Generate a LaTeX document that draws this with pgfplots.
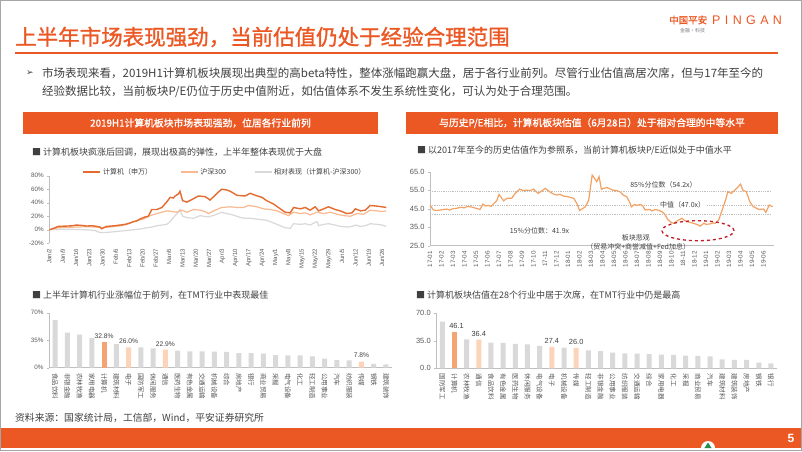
\documentclass[border=0pt]{standalone}
\usepackage{pgfplots}
\pgfplotsset{compat=1.18}
\usepackage{fontspec}
\setmainfont{Liberation Sans}
\newfontfamily\cjk{Noto Sans CJK SC}
\newfontfamily\cjkb[FakeBold=1.2]{Noto Sans CJK SC}
\newfontfamily\dejavu{DejaVu Sans}
\newfontfamily\pingan[LetterSpace=35]{Liberation Sans}
\definecolor{pa}{RGB}{236,88,36}
\definecolor{cline}{RGB}{228,108,48}
\definecolor{hsline}{RGB}{248,185,145}
\definecolor{relg}{RGB}{217,217,217}
\definecolor{peline}{RGB}{242,162,100}
\definecolor{barg}{RGB}{217,217,217}
\definecolor{bardk}{RGB}{245,163,112}
\definecolor{barlt}{RGB}{251,212,185}
\definecolor{txt}{RGB}{64,64,64}
\definecolor{tickc}{RGB}{89,89,89}
\definecolor{axg}{RGB}{191,191,191}
\definecolor{ell}{RGB}{192,30,40}
\definecolor{lgreen}{RGB}{40,140,80}
\newcommand{\fs}[1]{\fontsize{#1}{#1}\selectfont}
\pgfplotsset{
  slide/.style={scale only axis, enlargelimits=false, anchor=south west,
    /pgf/number format/assume math mode=true,
    tick label style={font=\fs{6.5}, text=tickc},
    axis line style={axg, line width=0.5pt},
    tick style={axg, line width=0.4pt},
    major tick length=2pt, tick align=outside,
    axis y line*=left, axis x line*=bottom},
}
\begin{document}
\begin{tikzpicture}[x=1pt,y=1pt]
\useasboundingbox (0,0) rectangle (802,451);
\fill[white] (0,0) rectangle (802,451);
% title and logo
\node[anchor=west, text=pa, inner sep=0] at (15,414) {\cjkb\fs{21.5}上半年市场表现强劲，当前估值仍处于经验合理范围};
\node[anchor=west, text=pa, inner sep=0] at (669,431) {\cjkb\fs{9.5}中国平安};
\node[anchor=west, text=pa, inner sep=0] at (712,431) {\pingan\fs{12.5}PINGAN};
\node[anchor=west, text=gray, inner sep=0] at (680,420) {\cjk\fs{5}金融·科技};
\draw[pa, line width=1.5pt] (15,398) -- (778,398);
% bullet
\node[anchor=west, text=txt, inner sep=0] at (26,378) {\dejavu\fs{9}➢};
\node[anchor=west, text=txt, inner sep=0] at (42,378) {\cjk\fs{11.5}市场表现来看，2019H1计算机板块展现出典型的高beta特性，整体涨幅跑赢大盘，居于各行业前列。尽管行业估值高居次席，但与17年至今的};
\node[anchor=west, text=txt, inner sep=0] at (42,359) {\cjk\fs{11.5}经验数据比较，当前板块P/E仍位于历史中值附近，如估值体系不发生系统性变化，可认为处于合理范围。};
% header bars
\fill[pa] (23,317) rectangle (378,339);
\node[text=white] at (200.5,328) {\cjkb\fs{9.8}2019H1计算机板块市场表现强劲，位居各行业前列};
\fill[pa] (406,317) rectangle (778,339);
\node[text=white] at (592,328) {\cjkb\fs{9.8}与历史P/E相比，计算机板块估值（6月28日）处于相对合理的中等水平};
% subtitles
\node[anchor=west, text=txt, inner sep=0] at (32,299) {\cjk\fs{9}■\ 计算机板块疯涨后回调，展现出极高的弹性，上半年整体表现优于大盘};
\node[anchor=west, text=txt, inner sep=0] at (417,301) {\cjk\fs{9}■\ 以2017年至今的历史估值作为参照系，当前计算机板块P/E近似处于中值水平};
\node[anchor=west, text=txt, inner sep=0] at (32,156) {\cjk\fs{9}■\ 上半年计算机行业涨幅位于前列，在TMT行业中表现最佳};
\node[anchor=west, text=txt, inner sep=0] at (416,156) {\cjk\fs{9}■\ 计算机板块估值在28个行业中居于次席，在TMT行业中仍是最高};
% footer
\node[anchor=west, text=txt, inner sep=0] at (15,33) {\cjk\fs{9.8}资料来源：国家统计局，工信部，Wind，平安证券研究所};
\fill[pa] (0,3) rectangle (802,23);
\fill[white] (701,3) arc (180:0:7) -- cycle;
\fill[lgreen] (704.5,3) -- (708,8.5) -- (711.5,3) -- cycle;
\node[text=white] at (791,13) {\bfseries\fs{12}5};
\draw[gray!70, line width=0.8pt] (0.5,0.5) rectangle (801.5,450.5);

% ---------- chart A: line chart ----------
\begin{axis}[slide, at={(49.3pt,207.7pt)}, width=338pt, height=67.6pt,
  xmin=0, xmax=127, ymin=-20, ymax=80,
  ytick={-20,0,...,80}, yticklabel={\pgfmathprintnumber{\tick}\%},
  y tick label style={font=\fs{6.3}},
  x axis line style={draw=none}, xtick style={draw=none},
  xtick={0,5,...,125},
  xticklabels={Jan/2,Jan/9,Jan/16,Jan/23,Jan/30,Feb/6,Feb/13,Feb/20,Feb/27,Mar/6,Mar/13,Mar/20,Mar/27,Apr/3,Apr/10,Apr/17,Apr/24,May/1,May/8,May/15,May/22,May/29,Jun/5,Jun/12,Jun/19,Jun/26},
  x tick label style={rotate=90, anchor=east, font=\fs{6}},
  legend columns=3,
  legend style={at={(0.52,1.055)}, anchor=center, draw=none, fill=none,
    font=\cjk\fs{7}, text=txt, /tikz/every even column/.append style={column sep=26pt}},
  legend image code/.code={\draw[#1] (0pt,0pt) -- (17pt,0pt);},
]
\addlegendimage{cline, line width=1.4pt}\addlegendentry{计算机（申万）}
\addlegendimage{hsline, line width=1.2pt}\addlegendentry{沪深300}
\addlegendimage{relg, line width=1.2pt}\addlegendentry{相对表现（计算机-沪深300）}
\addplot[relg, line width=1.2pt, forget plot] coordinates {
(0,0) (3,0.5) (6.5,1) (10,0.5) (14,0) (17,-1) (19,-4) (21.6,-4) (24,-3) (26.6,-2) (29,-1) (31.6,0) (34,1) (36.7,3) (38.5,4) (40.4,6) (42.3,7) (44.1,8) (45.4,12) (46.6,18) (48,24) (49.1,30) (50.1,20) (51.7,18) (54.2,17) (56.7,21) (58,20) (59.8,19) (62.3,22) (64.8,26) (66.5,24) (68,23) (70.5,20) (72,18) (73.6,17) (75.5,17) (77.4,16) (79.9,15) (81.7,14) (83,12) (84.3,10) (86.8,6) (88.6,3) (90.5,2) (91.8,9) (94.3,8) (96.2,9) (98,7) (99.9,11) (100.6,12) (101.2,6) (103.1,8) (104.9,9) (107.4,7) (109.3,5) (111.8,4) (113.7,5) (115,7) (116.9,5) (118.7,6) (120.6,9) (123.1,8) (125,7) (126.6,5)};
\addplot[hsline, line width=1.2pt, forget plot] coordinates {
(0,0) (1.5,1.5) (3.4,3) (6.5,3.5) (10,4) (14,4.5) (17.8,4) (20.3,3) (22.5,4) (24.7,5) (27,6) (29.1,8) (31.6,12) (33.5,14) (35.4,16) (37.9,21) (40.4,24) (42.3,26) (44.1,28) (46,27) (47.9,26) (49.8,29) (51.7,26) (54.2,30) (56.7,29) (58.5,27) (59.8,24) (62.3,29) (64.8,33) (68,34) (70.5,33) (73,33) (74.9,36) (76.5,35) (78,34) (80.5,31) (83,30) (85.5,28) (88,24) (89.9,21) (91.8,26) (94.3,24) (96.2,25) (98,22) (100.6,26) (103.1,24) (105.6,26) (108.1,23) (110.6,21) (113.1,20) (115.6,24) (118.1,23) (120.6,29) (123.1,28) (125,27) (126.6,28)};
\addplot[cline, line width=1.4pt, forget plot] coordinates {
(0,0) (1.5,2) (3.4,5) (6.5,5.5) (9,6) (10,7) (12.2,6.5) (14,5.5) (16,6) (17.8,5) (19,4) (19.7,1.5) (20.6,3.5) (21.6,5) (24.7,6) (26.6,7) (28.5,8) (30.3,10) (31.6,12) (32.8,13) (34.1,16) (36,19) (37.2,20) (38.5,30) (40.4,30) (42.3,33) (44.1,41) (45.4,48) (46.6,47) (47.3,50) (48.5,53) (49.1,57) (50.1,43) (51.7,41) (54.2,46) (56,50) (58.6,49) (60.4,44) (62.3,51) (63.6,56) (64.8,60) (66.5,59) (68,57) (70.5,51) (73.6,50) (75.5,54) (77.4,51) (79.9,48) (81.7,43) (84.3,38) (86.8,31) (88.6,26) (90.5,25) (91.8,33) (94.3,31) (96.2,33) (98,29) (99.9,34) (101.2,28) (103.1,31) (104.9,34) (107.4,30) (109.3,28) (111.8,24) (113.7,25) (115,31) (116.9,28) (118.7,29) (120.6,36) (123.1,35) (125,34) (126.6,33)};
\end{axis}

% ---------- chart B: P/E ----------
\begin{axis}[slide, at={(430pt,205.3pt)}, width=343.9pt, height=74pt,
  xmin=0, xmax=29.9, ymin=25, ymax=65,
  ytick={25,35,...,65},
  yticklabel style={font=\fs{7.5}, /pgf/number format/fixed, /pgf/number format/fixed zerofill, /pgf/number format/precision=1},
  xtick={0,...,29}, xtick style={draw=none},
  xticklabels={17-01,17-02,17-03,17-04,17-05,17-06,17-07,17-08,17-09,17-10,17-11,17-12,18-01,18-02,18-03,18-04,18-05,18-06,18-07,18-08,18-09,18-10,18-11,18-12,19-01,19-02,19-03,19-04,19-05,19-06},
  x tick label style={rotate=90, anchor=east, font=\fs{6.3}},
  clip=false,
]
\addplot[axg, densely dotted, line width=0.8pt] coordinates {(0,54.2) (29.6,54.2)};
\addplot[axg, densely dotted, line width=0.8pt] coordinates {(0,47.0) (29.6,47.0)};
\addplot[axg, densely dotted, line width=0.8pt] coordinates {(0,41.9) (29.6,41.9)};
\addplot[peline, line width=1.2pt] coordinates {
(0,47.0) (0.3,44.3) (0.6,44.0) (0.9,44.3) (1.2,44.6) (1.45,44.8) (1.7,44.3) (2.0,45.0) (2.3,45.2) (2.6,45.7) (3.0,45.5) (3.2,46.2) (3.5,46.0) (3.7,45.8) (3.9,45.4) (4.1,45.0) (4.35,44.6) (4.6,47.5) (4.8,46.5) (5.1,46.8) (5.3,46.2) (5.5,47.5) (5.8,49.3) (6.0,52.7) (6.2,51.0) (6.4,49.3) (6.7,50.6) (7.1,50.6) (7.4,53.3) (7.8,55.6) (8.1,54.8) (8.4,55.0) (8.7,54.8) (9.0,55.6) (9.4,53.3) (9.7,54.5) (10.0,56.0) (10.4,54.2) (10.7,53.0) (11.0,52.4) (11.3,52.8) (11.6,51.8) (11.9,51.6) (12.2,51.1) (12.5,50.6) (12.8,47.5) (13.0,44.0) (13.2,44.8) (13.5,46.0) (13.8,49.7) (14.1,63.2) (14.3,61.4) (14.5,59.6) (14.7,62.3) (14.9,55.5) (15.1,56.0) (15.4,56.4) (15.7,55.6) (15.9,55.0) (16.2,54.8) (16.5,54.2) (16.8,52.4) (17.1,51.5) (17.4,47.9) (17.5,46.0) (17.8,47.3) (18.0,46.8) (18.3,47.3) (18.5,46.5) (18.7,44.3) (19.1,44.6) (19.3,43.8) (19.6,44.6) (20.0,43.9) (20.2,43.2) (20.4,42.1) (20.7,38.9) (21.0,37.5) (21.2,37.1) (21.6,38.9) (21.9,39.8) (22.1,38.8) (22.3,38.0) (22.6,37.6) (22.9,37.1) (23.2,36.5) (23.5,35.6) (23.8,37.1) (24.0,36.6) (24.3,36.7) (24.6,37.3) (24.8,37.1) (25.1,38.9) (25.4,44.3) (25.7,49.7) (25.9,54.2) (26.2,53.3) (26.5,55.0) (26.8,56.9) (27.0,58.3) (27.2,55.0) (27.5,54.2) (27.8,48.8) (28.1,46.1) (28.4,45.2) (28.6,44.6) (29.0,44.8) (29.2,43.0) (29.5,47.0) (29.8,46.1)};
\node[text=txt, font=\cjk\fs{7}] at (axis cs:20.3,57.8) {85\%分位数（54.2x）};
\node[text=txt, font=\cjk\fs{7}, fill=white, inner sep=1pt] at (axis cs:21.96,47.3) {中值（47.0x）};
\node[text=txt, font=\cjk\fs{7}] at (axis cs:9.52,33.1) {15\%分位数：41.9x};
\node[text=txt, font=\cjk\fs{7}] at (axis cs:17.9,29.3) {板块悲观};
\node[text=txt, font=\cjk\fs{7}] at (axis cs:18.1,24.3) {（贸易冲突+商誉减值+Fed加息）};
\draw[ell, dashed, line width=1.3pt] (axis cs:23.3,33.1) ellipse [x radius=36pt, y radius=10pt];
\end{axis}

% ---------- chart C: bar gains ----------
\begin{axis}[slide, at={(48.9pt,83.3pt)}, width=343.2pt, height=55pt,
  xmin=-0.5, xmax=27.5, ymin=0, ymax=70,
  ytick={0,35,70}, yticklabel={\pgfmathprintnumber{\tick}\%},
  y tick label style={font=\fs{6.3}},
  xtick={0,...,27}, xtick style={draw=none},
  xticklabels={食品饮料,非银金融,农林牧渔,家用电器,计算机,建筑材料,电子,国防军工,休闲服务,通信,医药生物,有色金属,交通运输,机械设备,综合,房地产,银行,商业贸易,采掘,电气设备,化工,轻工制造,公用事业,汽车,纺织服装,传媒,钢铁,建筑装饰},
  x tick label style={rotate=-90, anchor=west, font=\cjk\fs{6.5}},
  clip=false,
]
\addplot[ybar, bar width=5pt, bar shift=0pt, fill=barg, draw=none] coordinates {
(0,60.7) (1,44.5) (2,42) (3,37.8) (5,30) (7,26) (8,24.6) (10,21.6) (11,20.8) (12,20.8) (13,20.4) (14,20) (15,18.7) (16,18.7) (17,17.8) (18,16.1) (19,15.7) (20,15.7) (21,14.4) (22,11.5) (23,9.8) (24,9.3) (26,5) (27,4.2)};
\addplot[ybar, bar width=5pt, bar shift=0pt, fill=bardk, draw=none,
  point meta=explicit symbolic, nodes near coords,
  every node near coord/.append style={font=\fs{6.7}, text=txt}] coordinates {(4,32.8) [32.8\%]};
\addplot[ybar, bar width=5pt, bar shift=0pt, fill=barlt, draw=none,
  point meta=explicit symbolic, nodes near coords,
  every node near coord/.append style={font=\fs{6.7}, text=txt}] coordinates {(6,26.0) [26.0\%] (9,22.9) [22.9\%] (25,7.8) [7.8\%]};
\end{axis}

% ---------- chart D: bar valuation ----------
\begin{axis}[slide, at={(436.2pt,82.7pt)}, width=340.8pt, height=55pt,
  xmin=-0.5, xmax=27.5, ymin=0, ymax=70,
  ytick={0,35,70},
  yticklabel style={font=\fs{7.5}, /pgf/number format/fixed, /pgf/number format/fixed zerofill, /pgf/number format/precision=1},
  xtick={0,...,27}, xtick style={draw=none},
  xticklabels={国防军工,计算机,农林牧渔,通信,食品饮料,有色金属,医药生物,休闲服务,电气设备,电子,机械设备,传媒,轻工制造,非银金融,公用事业,纺织服装,交通运输,综合,家用电器,化工,采掘,商业贸易,汽车,建筑材料,建筑装饰,房地产,钢铁,银行},
  x tick label style={rotate=-90, anchor=west, font=\cjk\fs{6.5}},
  clip=false,
]
\addplot[ybar, bar width=5pt, bar shift=0pt, fill=barg, draw=none] coordinates {
(0,59.4) (2,36.9) (4,32.7) (5,32.5) (6,31) (7,30.5) (8,28.4) (10,26.3) (12,22.9) (13,22) (14,19.9) (15,19.1) (16,18.7) (17,18.2) (18,17.4) (19,17) (20,16.1) (21,15.7) (22,15.3) (23,11.5) (24,10.6) (25,10.6) (26,7.2) (27,6.4)};
\addplot[ybar, bar width=5pt, bar shift=0pt, fill=bardk, draw=none,
  point meta=explicit symbolic, nodes near coords,
  every node near coord/.append style={font=\fs{7.4}, text=txt, xshift=2pt}] coordinates {(1,46.1) [46.1]};
\addplot[ybar, bar width=5pt, bar shift=0pt, fill=barlt, draw=none,
  point meta=explicit symbolic, nodes near coords,
  every node near coord/.append style={font=\fs{7.4}, text=txt}] coordinates {(3,36.4) [36.4] (9,27.4) [27.4] (11,26.0) [26.0]};
\end{axis}
\end{tikzpicture}
\end{document}
